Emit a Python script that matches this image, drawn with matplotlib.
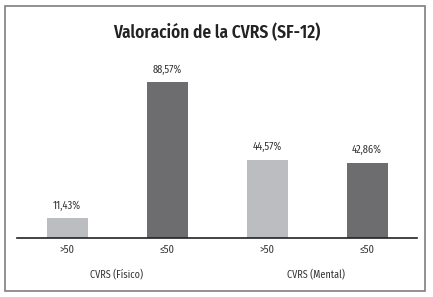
import matplotlib.pyplot as plt
from matplotlib.patches import Rectangle
from matplotlib import font_manager

categories = [">50", "≤50", ">50", "≤50"]
values = [11.43, 88.57, 44.57, 42.86]
groups = ["CVRS (Físico)", "CVRS (Mental)"]
colors = ["#bcbdc0", "#6d6d6f", "#bcbdc0", "#6d6d6f"]

# condensed face if available, else plain DejaVu
names = {f.name for f in font_manager.fontManager.ttflist}
fam = "Fira Sans Condensed" if "Fira Sans Condensed" in names else "DejaVu Sans"
plt.rcParams["font.family"] = [fam, "DejaVu Sans"]

fig = plt.figure(figsize=(4.33, 2.97), dpi=100)
fig.patches.append(Rectangle((5/433, 1-291/297), 420/433, 285/297,
                             transform=fig.transFigure, fill=False,
                             edgecolor="#7f7f7f", lw=1.2))

ax = fig.add_axes([17/433, 1-238/297, 400/433, 176/297])
x = list(range(len(values)))
ax.bar(x, values, width=0.41, color=colors)
ax.set_xlim(-0.5, 3.5)
ax.set_ylim(0, 100)
for s in ["top", "right", "left"]:
    ax.spines[s].set_visible(False)
ax.spines["bottom"].set_color("#222222")
ax.spines["bottom"].set_linewidth(1.2)
ax.set_yticks([])
ax.set_xticks(x)
ax.set_xticklabels(categories, fontsize=7.5, color="#333333")
ax.tick_params(axis="x", length=0, pad=5)

for xi, v in zip(x, values):
    ax.annotate(f"{v:.2f}%".replace(".", ","), (xi, v), xytext=(0, 5),
                textcoords="offset points", ha="center", va="bottom",
                fontsize=7.5, color="#333333")

for i, g in enumerate(groups):
    ax.text(0.49 + 2*i, -0.23, g, transform=ax.get_xaxis_transform(),
            ha="center", va="baseline", fontsize=7.3, color="#333333")

fig.text(0.5, 1-33/297, "Valoración de la CVRS (SF-12)", ha="center",
         va="center", fontsize=12.4, fontweight="semibold", color="#222222")

fig.savefig("out.png", dpi=100)
